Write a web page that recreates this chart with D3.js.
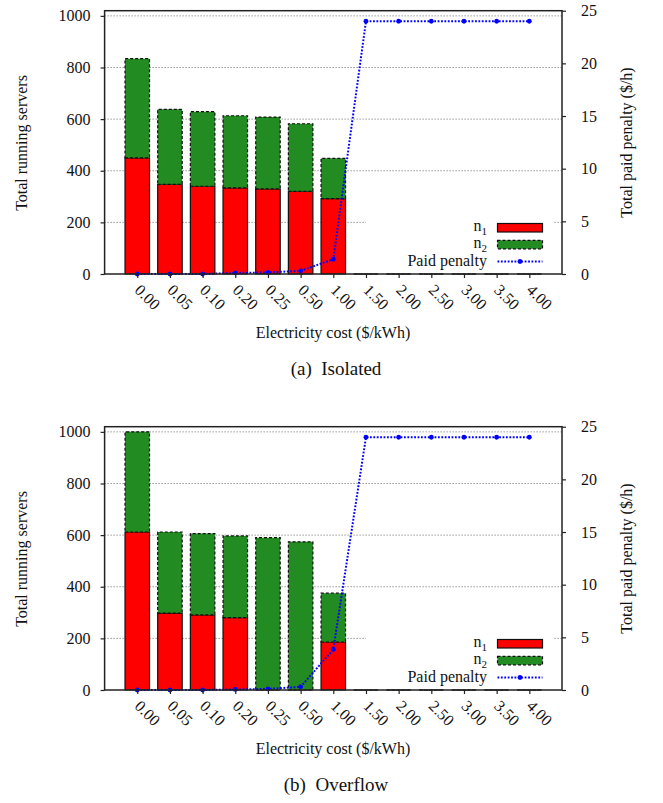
<!DOCTYPE html>
<html>
<head>
<meta charset="utf-8">
<script src="https://cdn.jsdelivr.net/npm/d3@7"></script>
<style>
  html, body { margin: 0; padding: 0; background: #fff; }
  svg { display: block; }
  svg text { font-family: "Liberation Serif", "Times New Roman", "DejaVu Serif", serif; }
</style>
</head>
<body>
<svg id="chart" width="663" height="803"></svg>
<script>
// Electricity cost levels ($/kWh) on the x axis
const categories = ["0.00", "0.05", "0.10", "0.20", "0.25", "0.50", "1.00",
                    "1.50", "2.00", "2.50", "3.00", "3.50", "4.00"];

// (a) Isolated: running servers of each type and paid penalty ($/h)
const isolatedN1 = [450, 347, 340, 334, 330, 320, 292, 0, 0, 0, 0, 0, 0];
const isolatedN2 = [384, 291, 289, 279, 278, 262, 156, 0, 0, 0, 0, 0, 0];
const isolatedPenalty = [0, 0, 0, 0.1, 0.15, 0.3, 1.4, 24, 24, 24, 24, 24, 24];

// (b) Overflow
const overflowN1 = [612, 298, 291, 280, 0, 0, 186, 0, 0, 0, 0, 0, 0];
const overflowN2 = [388, 314, 315, 317, 590, 574, 189, 0, 0, 0, 0, 0, 0];
const overflowPenalty = [0, 0, 0, 0.05, 0.1, 0.3, 3.85, 24, 24, 24, 24, 24, 24];

// Axis ticks
const serverTicks = [0, 200, 400, 600, 800, 1000];
const penaltyTicks = [0, 5, 10, 15, 20, 25];

const SERIF = "Liberation Serif, Times New Roman, DejaVu Serif, serif";
const svg = d3.select("#chart");
const plot = { left: 104.6, right: 562, top: 10.7, bottom: 274 };
const FONT = 16;

function drawPanel(offsetY, n1, n2, penalty, caption) {
  const g = svg.append("g").attr("transform", `translate(0,${offsetY})`)
    .attr("font-family", SERIF);

  const x = d3.scaleLinear().domain([-1, 13]).range([plot.left, plot.right]);
  const yL = d3.scaleLinear().domain([0, 1020]).range([plot.bottom, plot.top]);
  const yR = d3.scaleLinear().domain([0, 25]).range([plot.bottom, plot.top]);

  // dotted horizontal grid
  g.append("g").selectAll("line")
    .data(serverTicks.slice(1))
    .join("line")
    .attr("x1", plot.left).attr("x2", plot.right)
    .attr("y1", d => yL(d)).attr("y2", d => yL(d))
    .attr("stroke", "#666").attr("stroke-width", 1)
    .attr("stroke-dasharray", "1,2");

  // stacked bars (paths so zero-height bars still leave their outline)
  const half = 0.375;
  const barPath = (i, lo, hi) => {
    const x0 = x(i - half), x1 = x(i + half);
    const y0 = yL(lo), y1 = yL(hi);
    return `M${x0},${y0}H${x1}V${y1}H${x0}Z`;
  };
  const bars = g.append("g");
  bars.selectAll("path.n1")
    .data(n1)
    .join("path").attr("class", "n1")
    .attr("d", (d, i) => barPath(i, 0, d))
    .attr("fill", "#ff0000").attr("stroke", "#111").attr("stroke-width", 1.2);
  bars.selectAll("path.n2")
    .data(n2)
    .join("path").attr("class", "n2")
    .attr("d", (d, i) => barPath(i, n1[i], n1[i] + d))
    .attr("fill", "#228b22").attr("stroke", "#111").attr("stroke-width", 1.2)
    .attr("stroke-dasharray", "3,2");

  // penalty line on the right axis
  const line = d3.line().x((d, i) => x(i)).y(d => yR(d));
  g.append("path")
    .datum(penalty)
    .attr("d", line)
    .attr("fill", "none").attr("stroke", "#0000ff").attr("stroke-width", 2)
    .attr("stroke-dasharray", "1.8,1.6");
  g.append("g").selectAll("circle")
    .data(penalty)
    .join("circle")
    .attr("cx", (d, i) => x(i)).attr("cy", d => yR(d)).attr("r", 2.4)
    .attr("fill", "#0000ff");

  // legend with opaque background
  const lg = g.append("g");
  lg.append("rect")
    .attr("x", 366).attr("y", 213).attr("width", 187).attr("height", 58)
    .attr("fill", "#fff");
  const tx = 487, sx0 = 497.5, sx1 = 542.5;
  const t1 = lg.append("text").attr("x", tx).attr("y", 231).attr("text-anchor", "end")
    .attr("font-size", FONT).attr("fill", "#111");
  t1.append("tspan").text("n");
  t1.append("tspan").attr("dy", 4).attr("font-size", 11).text("1");
  lg.append("rect").attr("x", sx0).attr("y", 223.5).attr("width", sx1 - sx0).attr("height", 8.5)
    .attr("fill", "#ff0000").attr("stroke", "#111").attr("stroke-width", 1.2);
  const t2 = lg.append("text").attr("x", tx).attr("y", 247.8).attr("text-anchor", "end")
    .attr("font-size", FONT).attr("fill", "#111");
  t2.append("tspan").text("n");
  t2.append("tspan").attr("dy", 4).attr("font-size", 11).text("2");
  lg.append("rect").attr("x", sx0).attr("y", 240.3).attr("width", sx1 - sx0).attr("height", 8.5)
    .attr("fill", "#228b22").attr("stroke", "#111").attr("stroke-width", 1.2)
    .attr("stroke-dasharray", "3,2");
  lg.append("text").attr("x", tx).attr("y", 266).attr("text-anchor", "end")
    .attr("font-size", FONT).attr("fill", "#111").text("Paid penalty");
  lg.append("line").attr("x1", sx0).attr("x2", sx1).attr("y1", 261.5).attr("y2", 261.5)
    .attr("stroke", "#0000ff").attr("stroke-width", 2).attr("stroke-dasharray", "1.8,1.6");
  lg.append("circle").attr("cx", (sx0 + sx1) / 2).attr("cy", 261.5).attr("r", 2.4)
    .attr("fill", "#0000ff");

  // frame
  g.append("rect")
    .attr("x", plot.left).attr("y", plot.top)
    .attr("width", plot.right - plot.left).attr("height", plot.bottom - plot.top)
    .attr("fill", "none").attr("stroke", "#222").attr("stroke-width", 1.5);

  const styleAxis = sel => {
    sel.attr("font-family", SERIF);
    sel.select(".domain").remove();
    sel.selectAll(".tick line").attr("stroke", "#222").attr("stroke-width", 1.2);
    sel.selectAll(".tick text").attr("font-size", FONT).attr("fill", "#111");
  };

  // left axis
  g.append("g").attr("transform", `translate(${plot.left},0)`)
    .call(d3.axisLeft(yL).tickValues(serverTicks).tickFormat(d3.format("d"))
      .tickSize(4).tickPadding(10))
    .call(styleAxis);

  // right axis
  g.append("g").attr("transform", `translate(${plot.right},0)`)
    .call(d3.axisRight(yR).tickValues(penaltyTicks).tickFormat(d3.format("d"))
      .tickSize(4).tickPadding(15))
    .call(styleAxis);

  // bottom axis with slanted labels
  g.append("g").attr("transform", `translate(0,${plot.bottom})`)
    .call(d3.axisBottom(x).tickValues(d3.range(categories.length))
      .tickFormat(i => categories[i]).tickSize(4))
    .call(styleAxis)
    .call(sel => sel.selectAll(".tick text")
      .attr("x", -4).attr("y", 17).attr("dy", 0)
      .attr("text-anchor", "start")
      .attr("transform", "rotate(45,-4,17)"));

  // axis titles
  g.append("text")
    .attr("transform", "translate(26.5,143) rotate(-90)")
    .attr("text-anchor", "middle").attr("font-size", FONT).attr("fill", "#111")
    .text("Total running servers");
  g.append("text")
    .attr("transform", "translate(631.5,142.5) rotate(-90)")
    .attr("text-anchor", "middle").attr("font-size", FONT).attr("fill", "#111")
    .text("Total paid penalty ($/h)");
  g.append("text")
    .attr("x", 333).attr("y", 338.3)
    .attr("text-anchor", "middle").attr("font-size", FONT).attr("fill", "#111")
    .text("Electricity cost ($/kWh)");

  // sub-figure caption
  g.append("text")
    .attr("x", 336).attr("y", 375)
    .attr("text-anchor", "middle").attr("font-size", 19).attr("fill", "#111")
    .text(caption);
}

drawPanel(0, isolatedN1, isolatedN2, isolatedPenalty, "(a)\u00a0\u00a0Isolated");
drawPanel(416, overflowN1, overflowN2, overflowPenalty, "(b)\u00a0\u00a0Overflow");
</script>
</body>
</html>
